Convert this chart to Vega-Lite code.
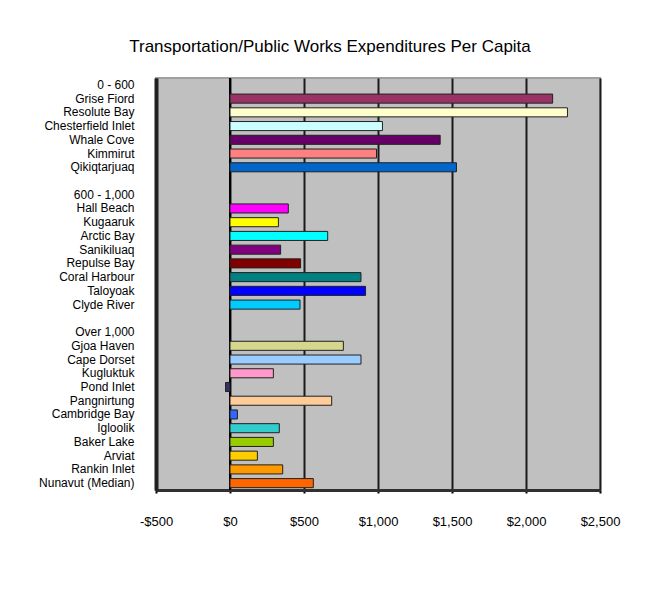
{
  "$schema": "https://vega.github.io/schema/vega-lite/v6.json",
  "width": 444,
  "height": 412,
  "autosize": {"type": "none"},
  "padding": {"left": 156, "top": 78, "right": 62, "bottom": 110},
  "background": "white",
  "title": {
    "text": "Transportation/Public Works Expenditures Per Capita",
    "font": "Liberation Sans",
    "fontSize": 17,
    "fontWeight": "normal",
    "color": "black",
    "anchor": "middle",
    "dx": -48,
    "offset": 21
  },
  "config": {
    "view": {"fill": "#C0C0C0", "stroke": "#A0A0A0", "strokeWidth": 2}
  },
  "data": {
    "values": [
      {"name": "0 - 600", "value": null},
      {"name": "Grise Fiord", "value": 2180},
      {"name": "Resolute Bay", "value": 2280},
      {"name": "Chesterfield Inlet", "value": 1030},
      {"name": "Whale Cove", "value": 1420},
      {"name": "Kimmirut", "value": 990},
      {"name": "Qikiqtarjuaq", "value": 1530},
      {"name": " ", "value": null},
      {"name": "600 - 1,000", "value": null},
      {"name": "Hall Beach", "value": 394},
      {"name": "Kugaaruk", "value": 327},
      {"name": "Arctic Bay", "value": 660},
      {"name": "Sanikiluaq", "value": 342},
      {"name": "Repulse Bay", "value": 477},
      {"name": "Coral Harbour", "value": 885},
      {"name": "Taloyoak", "value": 916},
      {"name": "Clyde River", "value": 473},
      {"name": "  ", "value": null},
      {"name": "Over 1,000", "value": null},
      {"name": "Gjoa Haven", "value": 766},
      {"name": "Cape Dorset", "value": 885},
      {"name": "Kugluktuk", "value": 293},
      {"name": "Pond Inlet", "value": -30},
      {"name": "Pangnirtung", "value": 687},
      {"name": "Cambridge Bay", "value": 50},
      {"name": "Igloolik", "value": 333},
      {"name": "Baker Lake", "value": 293},
      {"name": "Arviat", "value": 185},
      {"name": "Rankin Inlet", "value": 356},
      {"name": "Nunavut (Median)", "value": 563}
    ]
  },
  "layer": [
    {
      "mark": {"type": "rule", "color": "black", "strokeWidth": 2},
      "encoding": {"x": {"datum": 0, "type": "quantitative"}}
    },
    {
      "mark": {"type": "bar", "height": {"band": 0.66}, "stroke": "#202020", "strokeWidth": 1},
      "encoding": {
        "y": {
          "field": "name",
          "type": "nominal",
          "sort": null,
          "scale": {
            "domain": ["0 - 600", "Grise Fiord", "Resolute Bay", "Chesterfield Inlet", "Whale Cove", "Kimmirut", "Qikiqtarjuaq", " ", "600 - 1,000", "Hall Beach", "Kugaaruk", "Arctic Bay", "Sanikiluaq", "Repulse Bay", "Coral Harbour", "Taloyoak", "Clyde River", "  ", "Over 1,000", "Gjoa Haven", "Cape Dorset", "Kugluktuk", "Pond Inlet", "Pangnirtung", "Cambridge Bay", "Igloolik", "Baker Lake", "Arviat", "Rankin Inlet", "Nunavut (Median)"],
            "paddingInner": 0,
            "paddingOuter": 0
          },
          "axis": {
            "title": null,
            "ticks": false,
            "labelPadding": 22,
            "labelFont": "Liberation Sans",
            "labelFontSize": 12,
            "labelColor": "black",
            "domainColor": "#202020",
            "domainWidth": 4,
            "labelLimit": 200
          }
        },
        "x": {
          "field": "value",
          "type": "quantitative",
          "scale": {"domain": [-500, 2500], "nice": false, "zero": false},
          "axis": {
            "title": null,
            "values": [-500, 0, 500, 1000, 1500, 2000, 2500],
            "labelExpr": "datum.value < 0 ? '-$' + format(-datum.value, ',') : '$' + format(datum.value, ',')",
            "labelFlush": false,
            "labelOverlap": false,
            "grid": true,
            "gridColor": "#1a1a1a",
            "gridWidth": 2,
            "gridOpacity": 1,
            "domainColor": "#303030",
            "domainWidth": 3,
            "tickColor": "black",
            "tickWidth": 2,
            "tickSize": 3,
            "labelPadding": 22,
            "labelFont": "Liberation Sans",
            "labelFontSize": 13,
            "labelColor": "black"
          }
        },
        "color": {
          "field": "name",
          "type": "nominal",
          "legend": null,
          "scale": {
            "domain": ["Grise Fiord", "Resolute Bay", "Chesterfield Inlet", "Whale Cove", "Kimmirut", "Qikiqtarjuaq", "Hall Beach", "Kugaaruk", "Arctic Bay", "Sanikiluaq", "Repulse Bay", "Coral Harbour", "Taloyoak", "Clyde River", "Gjoa Haven", "Cape Dorset", "Kugluktuk", "Pond Inlet", "Pangnirtung", "Cambridge Bay", "Igloolik", "Baker Lake", "Arviat", "Rankin Inlet", "Nunavut (Median)"],
            "range": ["#993366", "#FFFFCC", "#CCFFFF", "#660066", "#FF8080", "#0066CC", "#FF00FF", "#FFFF00", "#00FFFF", "#800080", "#800000", "#008080", "#0000FF", "#00CCFF", "#D6D68F", "#99CCFF", "#FF99CC", "#333366", "#FFCC99", "#3366FF", "#33CCCC", "#99CC00", "#FFCC00", "#FF9900", "#FF6600"]
          }
        }
      }
    }
  ]
}
